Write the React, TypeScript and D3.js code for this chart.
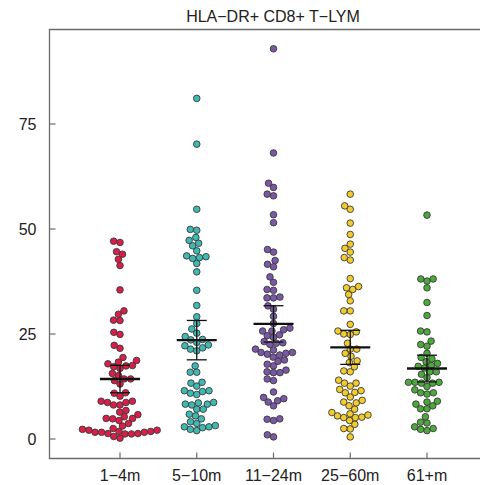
import React from 'react';
import * as d3 from 'd3';

const title = 'HLA\u2212DR+ CD8+ T\u2212LYM';
const categories = ['1\u22124m', '5\u221210m', '11\u221224m', '25\u221260m', '61+m'];
const colors = ['#DA1E48', '#3FBAB3', '#7A58A6', '#F2CB2C', '#4CA83C'];
const yTicks = [0, 25, 50, 75];

const g1 = [46.8, 47.1, 44.6, 44.0, 42.8, 41.3, 35.5, 30.5, 29.7, 28.2, 28.3, 25.4, 24.9, 22.3, 21.6, 19.4,
  18.7, 18.3, 17.9, 17.4, 17.5, 16.8, 17.2, 15.6, 14.3, 14.3, 15.1, 13.9, 13.1, 11.0, 10.2, 10.9, 9.0, 9.0,
  8.7, 8.1, 8.1, 8.7, 6.4, 6.8, 5.8, 5.3, 4.9, 4.9, 4.4, 4.8, 3.7, 3.1, 2.5, 1.8, 1.6, 1.3, 2.1, 1.2, 1.2,
  0.2, 0.6, 2.1, 1.3, 1.6, 1.6, 1.8, 2.3];
const g2 = [81.1, 70.2, 54.7, 49.9, 49.7, 48.0, 47.3, 46.0, 46.6, 44.8, 43.4, 41.8, 43.6, 43.2, 43.0, 39.8,
  35.4, 31.8, 29.1, 27.5, 26.2, 25.2, 23.7, 23.6, 24.4, 23.0, 22.2, 22.4, 21.7, 21.0, 21.4, 17.4, 15.9, 15.9,
  11.5, 12.6, 11.3, 10.6, 11.5, 13.3, 13.5, 10.9, 8.7, 8.3, 8.1, 7.1, 5.9, 7.1, 8.3, 8.6, 5.5, 4.1, 3.2, 2.9,
  2.7, 2.0, 2.3, 2.9, 3.7, 4.8];
const g3 = [92.9, 68.1, 59.9, 60.9, 57.9, 58.3, 53.4, 51.5, 45.1, 44.5, 42.5, 41.0, 41.6, 38.6, 37.3, 35.4,
  35.6, 33.8, 33.6, 33.6, 31.7, 29.2, 30.9, 27.5, 26.4, 26.0, 24.8, 24.2, 24.6, 25.7, 25.7, 22.9, 23.2, 22.5,
  22.8, 21.4, 20.4, 20.6, 20.2, 20.0, 21.2, 20.6, 18.5, 19.5, 18.8, 17.8, 17.4, 15.8, 16.4, 16.0, 15.8, 13.9,
  14.3, 9.9, 7.9, 8.8, 9.1, 9.6, 11.2, 4.7, 4.4, 4.8, 0.5, 1.0];
const g4 = [58.3, 54.7, 55.5, 51.4, 48.7, 46.4, 44.5, 42.6, 43.2, 45.4, 38.2, 36.3, 35.6, 34.4, 36.0, 32.9,
  30.5, 30.5, 27.3, 25.7, 24.9, 25.0, 25.5, 22.8, 21.4, 19.7, 20.4, 21.4, 18.6, 18.2, 16.0, 16.2, 17.2, 14.0,
  13.3, 11.5, 11.1, 12.6, 10.0, 11.0, 11.8, 13.3, 8.8, 9.2, 7.1, 8.6, 7.9, 6.3, 5.7, 5.1, 4.4, 2.5, 5.1, 2.4,
  3.5, 5.2, 5.5, 6.0, 0.5];
const g5 = [53.3, 38.1, 37.6, 38.1, 36.0, 32.5, 29.4, 25.5, 25.7, 23.3, 22.5, 22.1, 20.4, 19.4, 18.4, 18.0,
  19.1, 17.3, 16.9, 17.5, 16.0, 16.0, 15.4, 13.5, 13.5, 14.6, 13.3, 13.5, 13.3, 12.5, 11.7, 11.0, 11.0, 10.7,
  8.8, 7.9, 7.2, 7.2, 8.3, 9.0, 5.3, 2.9, 2.5, 2.0, 2.3, 3.8, 4.0];
const groups = [g1, g2, g3, g4, g5];

const W = 480, H = 485;
const left = 49.5, top = 29.5, bottom = 458.5;
const R = 3.3;
const D = 6.5;

const y = d3.scaleLinear().domain([0, 100]).range([439, 19]);
const x = d3.scalePoint<string>().domain(categories).range([120, 427]);

function swarm(values: number[]) {
  const pts = values.map((v) => ({ v, py: y(v), dx: 0 })).sort((a, b) => a.v - b.v);
  const placed: { v: number; py: number; dx: number }[] = [];
  for (const p of pts) {
    const cands = [0];
    for (const q of placed) {
      const dy = Math.abs(q.py - p.py);
      if (dy < D) {
        const off = Math.sqrt(D * D - dy * dy);
        cands.push(q.dx + off, q.dx - off);
      }
    }
    const ok = cands.filter((c) =>
      placed.every((q) => (q.dx - c) ** 2 + (q.py - p.py) ** 2 >= D * D - 0.01)
    );
    ok.sort((a, b) => Math.abs(a) - Math.abs(b) || a - b);
    p.dx = ok[0];
    placed.push(p);
  }
  return placed;
}

export default function App() {
  const font = 'Liberation Sans, Arial, sans-serif';
  return (
    <svg width={W} height={H} style={{ position: 'absolute', left: 0, top: 0, background: '#fff' }}
      fontFamily={font}>
      <rect x={0} y={0} width={W} height={H} fill="#fff" />
      <text x={273} y={21.5} textAnchor="middle" fontSize={16} fill="#222">{title}</text>
      <path d={`M${W + 2},${top}H${left}V${bottom}H${W + 2}`} fill="none" stroke="#6b6b6b" strokeWidth={1.3} />
      {yTicks.map((t) => (
        <g key={t}>
          <line x1={left} x2={left + 6} y1={y(t)} y2={y(t)} stroke="#6b6b6b" strokeWidth={1.2} />
          <text x={36.5} y={y(t)} dy="0.36em" textAnchor="end" fontSize={16} fill="#222">{t}</text>
        </g>
      ))}
      {categories.map((c) => (
        <g key={c}>
          <line x1={x(c)} x2={x(c)} y1={bottom} y2={bottom - 6} stroke="#6b6b6b" strokeWidth={1.2} />
          <text x={x(c)} y={481} textAnchor="middle" fontSize={16} fill="#222">{c}</text>
        </g>
      ))}
      {groups.map((vals, i) => {
        const cx = x(categories[i])!;
        const pts = swarm(vals);
        const mean = d3.mean(vals)!;
        const sd = d3.deviation(vals)!;
        const ci = (1.96 * sd) / Math.sqrt(vals.length);
        return (
          <g key={i}>
            {pts.map((p, j) => (
              <circle key={j} cx={cx + p.dx} cy={p.py} r={R} fill={colors[i]} stroke="#3a3a3a" strokeWidth={0.9} />
            ))}
            <line x1={cx} x2={cx} y1={y(mean + ci)} y2={y(mean - ci)} stroke="#111" strokeWidth={1.3} />
            <line x1={cx - 10} x2={cx + 10} y1={y(mean + ci)} y2={y(mean + ci)} stroke="#111" strokeWidth={1.3} />
            <line x1={cx - 10} x2={cx + 10} y1={y(mean - ci)} y2={y(mean - ci)} stroke="#111" strokeWidth={1.3} />
            <line x1={cx - 20} x2={cx + 20} y1={y(mean)} y2={y(mean)} stroke="#111" strokeWidth={2.4} />
          </g>
        );
      })}
    </svg>
  );
}
